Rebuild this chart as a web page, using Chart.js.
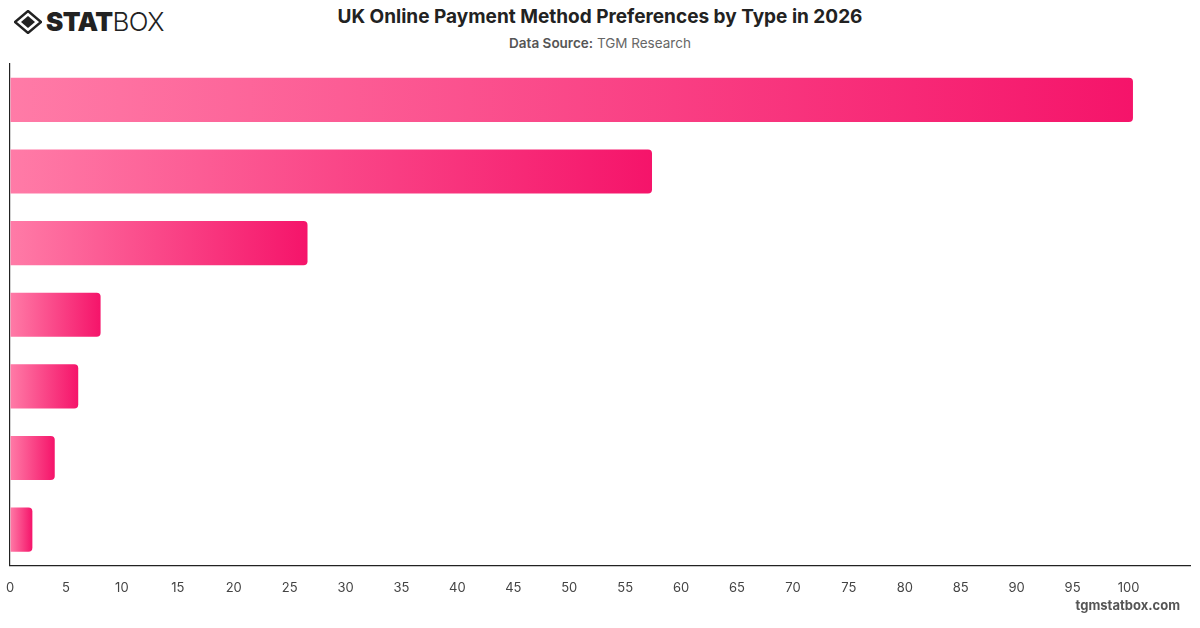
<!DOCTYPE html>
<html>
<head>
<meta charset="utf-8">
<script src="https://cdn.jsdelivr.net/npm/chart.js@4.4.1/dist/chart.umd.min.js"></script>
<style>
  html, body { margin: 0; padding: 0; background: #fff; }
  body { width: 1200px; height: 628px; position: relative; overflow: hidden; font-family: Inter, "Noto Sans", sans-serif; }
  #wrap { position: absolute; left: 0; top: 0; width: 1200px; height: 628px; }
  .title { position: absolute; top: 5px; left: 0; width: 1200px; text-align: center; font-size: 19px; font-weight: 700; color: #222; }
  .sub { position: absolute; top: 35px; left: 0; width: 1200px; text-align: center; font-size: 13.5px; color: #666; }
  .sub b { color: #555; font-weight: 600; }
  .logo { position: absolute; left: 14px; top: 6px; display: flex; align-items: center; color: #222; }
  .logo .t1 { font-size: 26px; font-weight: 900; letter-spacing: -0.6px; margin-left: 4px; }
  .logo .t2 { font-size: 26px; font-weight: 300; letter-spacing: -0.6px; }
  .foot { position: absolute; right: 20px; bottom: 15px; font-size: 13px; font-weight: 700; color: #555; }
</style>
</head>
<body>
<div class="logo">
  <svg width="28" height="24" viewBox="0 0 28 24">
    <path d="M14 1 L27 12 L14 23 L1 12 Z" fill="none" stroke="#222" stroke-width="2.4"/>
    <path d="M14 6 L21 12 L14 18 L7 12 Z" fill="#222"/>
  </svg>
  <span class="t1">STAT</span><span class="t2">BOX</span>
</div>
<div class="title">UK Online Payment Method Preferences by Type in 2026</div>
<div class="sub"><b>Data Source:</b> TGM Research</div>
<div id="wrap"><canvas id="chart" width="1200" height="628"></canvas></div>
<div class="foot">tgmstatbox.com</div>
<script>
  const categories = ["Debit Card", "Credit Card", "Digital Wallet", "Bank Transfer", "Buy Now Pay Later", "Cash on Delivery", "Cryptocurrency"];
  const shares = [100.4, 57.4, 26.6, 8.1, 6.1, 4.0, 2.0];
  const xTickStep = 5;
  const xTickLast = 100;

  function barFill(ctx) {
    const chart = ctx.chart;
    const area = chart.chartArea;
    if (!area || ctx.type !== "data") return "#f5156b";
    const x = chart.scales.x;
    const x0 = x.getPixelForValue(0);
    const x1 = x.getPixelForValue(shares[ctx.dataIndex]);
    const g = chart.ctx.createLinearGradient(x0, 0, x1, 0);
    g.addColorStop(0, "#ff7ba7");
    g.addColorStop(1, "#f5146a");
    return g;
  }

  new Chart(document.getElementById("chart").getContext("2d"), {
    type: "bar",
    data: {
      labels: categories,
      datasets: [{ data: shares, backgroundColor: barFill, borderRadius: 4, borderSkipped: "start",
        categoryPercentage: 0.8, barPercentage: 0.77 }],
    },
    options: {
      indexAxis: "y", responsive: false, animation: false,
      layout: { padding: { left: 10, top: 64, right: 10, bottom: 28 } },
      plugins: { legend: { display: false }, tooltip: { enabled: false } },
      scales: {
        x: {
          min: 0, max: 105.5,
          // invisible tick marks give the gap under the axis without widening the sides
          grid: { display: true, drawOnChartArea: false, drawTicks: true, tickLength: 11, tickColor: "rgba(0,0,0,0)" },
          border: { display: true, color: "#222", width: 1.2 },
          ticks: { stepSize: xTickStep, padding: 4, color: "#444", font: { family: "Inter", size: 13 },
            callback: (v) => (v > xTickLast || v % xTickStep !== 0 ? "" : v) },
        },
        y: {
          grid: { display: false, drawTicks: false },
          border: { display: true, color: "#222", width: 1.2 },
          ticks: { display: false },
          afterFit: (scale) => { scale.width = 0; },
        },
      },
    },
  });
</script>
</body>
</html>
